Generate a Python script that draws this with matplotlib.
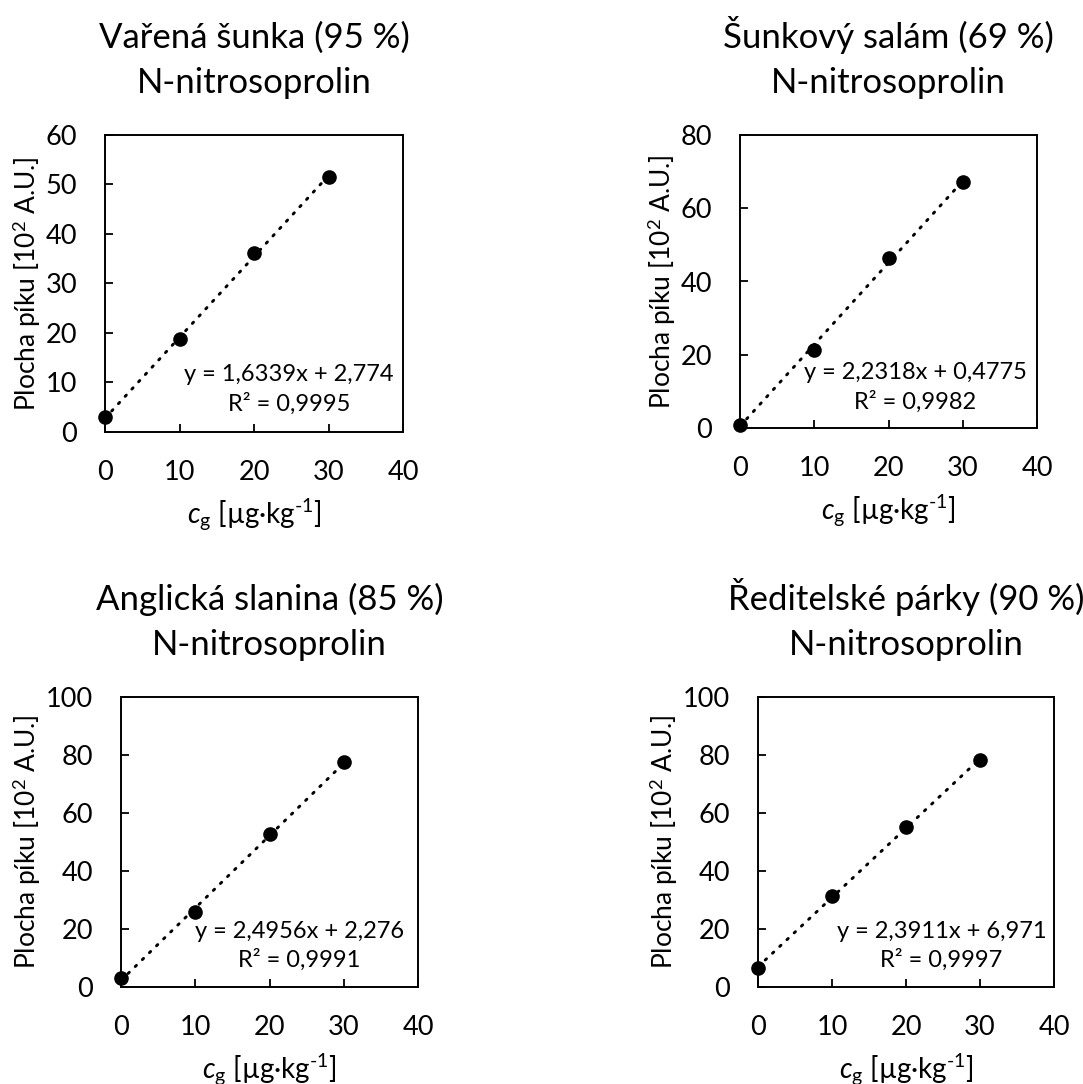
import numpy as np
import matplotlib
matplotlib.use('Agg')
import matplotlib.pyplot as plt

plt.rcParams['font.family'] = ['Lato', 'DejaVu Sans']
plt.rcParams['mathtext.fontset'] = 'custom'
plt.rcParams['mathtext.rm'] = 'Lato'
plt.rcParams['mathtext.it'] = 'Lato:italic'

conc = [0, 10, 20, 30]  # ug/kg

titles = ['Vařená šunka (95 %)', 'Šunkový salám (69 %)',
          'Anglická slanina (85 %)', 'Ředitelské párky (90 %)']
compound = 'N-nitrosoprolin'

area_sunka = [3.0, 18.8, 36.2, 51.5]
area_salam = [0.95, 21.2, 46.4, 67.1]
area_slanina = [3.1, 25.8, 52.6, 77.6]
area_parky = [6.6, 31.5, 55.2, 78.4]
areas = [area_sunka, area_salam, area_slanina, area_parky]

slopes = [1.6339, 2.2318, 2.4956, 2.3911]
intercepts = [2.774, 0.4775, 2.276, 6.971]
eq_texts = ['y = 1,6339x + 2,774', 'y = 2,2318x + 0,4775',
            'y = 2,4956x + 2,276', 'y = 2,3911x + 6,971']
r2_texts = ['R² = 0,9995', 'R² = 0,9982', 'R² = 0,9991', 'R² = 0,9997']

ymax = [60, 80, 100, 100]
ystep = [10, 20, 20, 20]

# axes boxes in pixels: left, top, right, bottom
W, H = 1083, 1084
boxes = [(105, 135, 403, 432), (740, 135, 1037, 428),
         (121, 697, 418, 987), (758, 697, 1054, 987)]
eq_pos = [(0.617, 0.143), (0.59, 0.138), (0.60, 0.141), (0.62, 0.141)]

fig = plt.figure(figsize=(W / 100, H / 100), dpi=100)

for i in range(4):
    l, t, r, b = boxes[i]
    ax = fig.add_axes([l / W, 1 - b / H, (r - l) / W, (b - t) / H])

    xs = np.array(conc, dtype=float)
    fit = slopes[i] * xs + intercepts[i]
    ax.plot(xs, fit, color='black', lw=2.1, linestyle=(0, (0.6, 2.8)),
            dash_capstyle='round')
    ax.plot(conc, areas[i], 'o', color='black', ms=9.5, zorder=3, clip_on=False)

    ax.set_xlim(0, 40)
    ax.set_ylim(0, ymax[i])
    ax.set_xticks([0, 10, 20, 30, 40])
    ax.set_yticks(np.arange(0, ymax[i] + 1, ystep[i]))
    ax.tick_params(axis='both', direction='in', length=6, width=1.3,
                   labelsize=19.5, color='black')
    ax.tick_params(axis='y', pad=20)
    ax.tick_params(axis='x', pad=20)
    for sp in ax.spines.values():
        sp.set_linewidth(1.4)
        sp.set_color('black')

    ax.set_xlabel(r'$c_{\mathrm{g}}$ [µg·kg$^{\text{-}1}$]', fontsize=20,
                  labelpad=9)
    ax.set_ylabel('Plocha píku [10$^{\\mathrm{2}}$ A.U.]', fontsize=19,
                  labelpad=2)
    ax.set_title(titles[i] + '\n' + compound, fontsize=25, pad=30,
                 linespacing=1.5)

    ex, ey = eq_pos[i]
    ax.text(ex, ey, eq_texts[i] + '\n' + r2_texts[i], transform=ax.transAxes,
            ha='center', va='center', multialignment='center', fontsize=17,
            linespacing=1.4)

fig.savefig('out.png', dpi=100)
